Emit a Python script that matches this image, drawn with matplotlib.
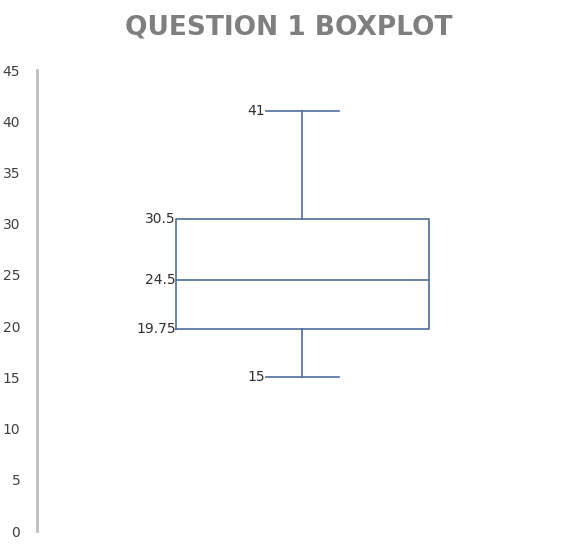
import matplotlib
matplotlib.use("Agg")
import matplotlib.pyplot as plt

# five-number summary
q_min = 15
q1 = 19.75
median = 24.5
q3 = 30.5
q_max = 41
yticks = [0, 5, 10, 15, 20, 25, 30, 35, 40, 45]

line_col = "#4e6d9c"

fig = plt.figure(figsize=(5.77, 5.5), dpi=100)
ax = fig.add_axes([0.064, 0.0345, 0.906, 0.8382])

stats = [{"whislo": q_min, "q1": q1, "med": median, "q3": q3, "whishi": q_max}]
ax.bxp(stats, positions=[0.508], widths=0.484, capwidths=0.141,
       showfliers=False, manage_ticks=False,
       boxprops=dict(color=line_col, lw=1.2),
       medianprops=dict(color=line_col, lw=1.2),
       whiskerprops=dict(color=line_col, lw=1.2),
       capprops=dict(color=line_col, lw=1.2))

ax.set_xlim(0, 1)
ax.set_ylim(0, 45)
ax.set_yticks(yticks)
ax.set_xticks([])
for s in ["top", "right", "bottom"]:
    ax.spines[s].set_visible(False)
ax.spines["left"].set_color("#bfbfbf")
ax.spines["left"].set_linewidth(2)
ax.tick_params(axis="y", length=0, labelsize=10, labelcolor="#404040", pad=12)

# value labels with short leader dashes
for val, x in [(q_max, 0.436), (q3, 0.266), (median, 0.266), (q1, 0.266), (q_min, 0.436)]:
    ax.text(x, val, f"{val:g}", ha="right", va="center", fontsize=10, color="#303030")

fig.text(0.5, 0.95, "QUESTION 1 BOXPLOT", ha="center", va="center",
         fontsize=19, fontweight="bold", color="#7f7f7f")

fig.savefig("out.png", dpi=100)
